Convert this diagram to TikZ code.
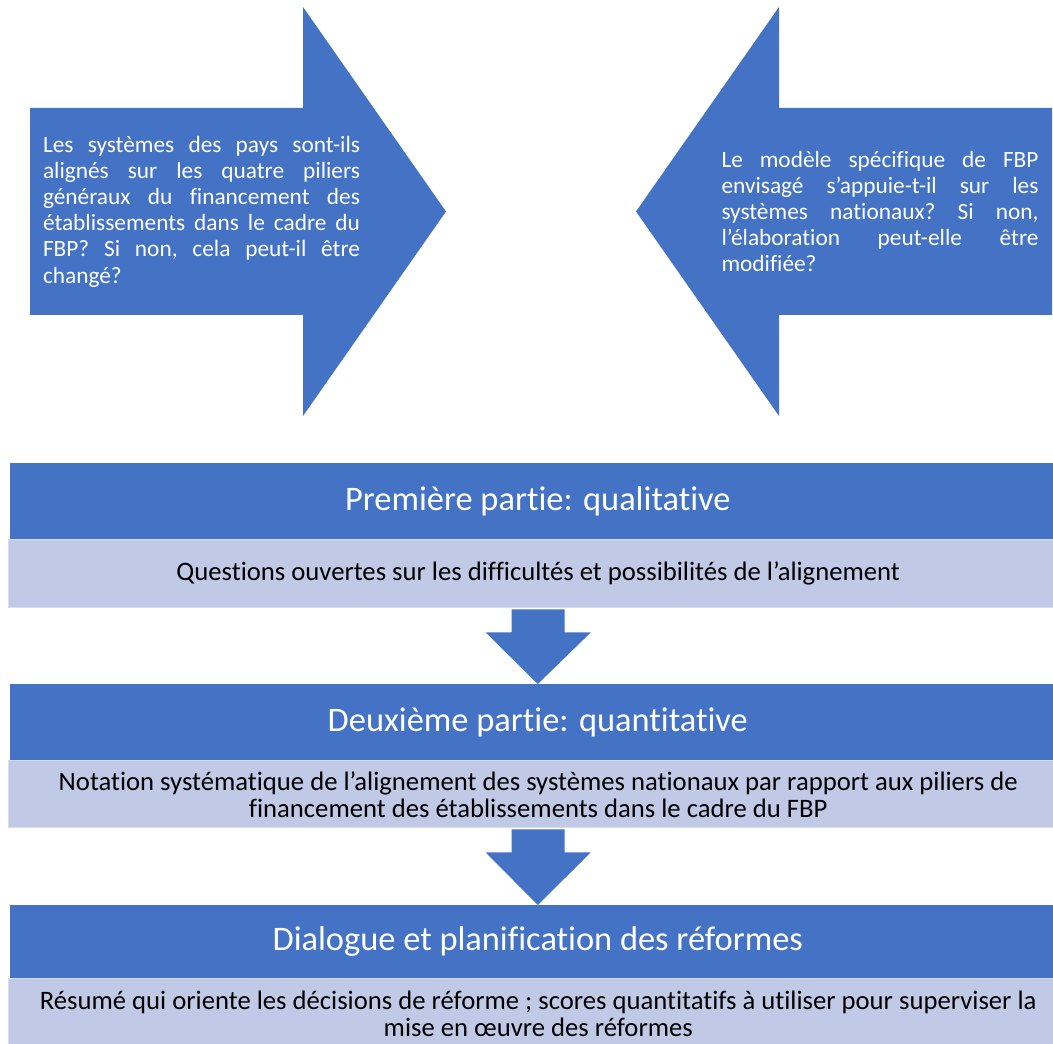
\documentclass[tikz,border=0pt]{standalone}
\usepackage{fontspec}
\setmainfont{Carlito}[Ligatures=NoCommon]
\usetikzlibrary{calc}
\definecolor{accent}{RGB}{68,114,196}
\definecolor{tint}{RGB}{192,201,230}
\definecolor{tintline}{RGB}{214,220,238}
\newcommand{\qsetup}{\frenchspacing\hyphenpenalty=10000\relax\exhyphenpenalty=10000\relax\tolerance=10000\relax}
\tikzset{
  headbox/.style={fill=accent, draw=none, anchor=north west, inner sep=0pt,
    text=white, font=\fontsize{25.8}{29}\selectfont, align=center,
    minimum width=1055*0.75pt},
  bodybox/.style={fill=tint, draw=tintline, line width=1.1pt, anchor=north west,
    inner sep=0pt, text=black, font=\fontsize{20}{20.25}\selectfont, align=center,
    minimum width=1059*0.75pt},
  blockarrow/.style={fill=accent, draw=none},
  qtext/.style={text=white, inner sep=0pt, text width=317*0.75pt, align=justify,
    font=\fontsize{17.5}{19.65}\selectfont}
}
\begin{document}
\begin{tikzpicture}[x=0.75pt,y=-0.75pt]
\clip (0,0) rectangle (1053,1044);
% top block arrows
\fill[blockarrow] (30,108) -- (303,108) -- (303,7) -- (446,211.5) -- (303,416) -- (303,315) -- (30,315) -- cycle;
\fill[blockarrow] (1052,108) -- (779,108) -- (779,7) -- (636,211.5) -- (779,416) -- (779,315) -- (1052,315) -- cycle;
\node[qtext] (q1) at (201.5,211.5) {\qsetup Les systèmes des pays sont-ils\linebreak alignés sur les quatre piliers\linebreak généraux du financement des\linebreak établissements dans le cadre du\linebreak FBP? Si non, cela peut-il être\linebreak changé?};
\node[qtext] (q2) at (880,211.5) {\qsetup Le modèle spécifique de FBP\linebreak envisagé s’appuie-t-il sur les\linebreak systèmes nationaux? Si non,\linebreak l’élaboration peut-elle être\linebreak modifiée?};
% boxes
\node[headbox, minimum height=76*0.75pt] (h1) at (10,463) {Première partie: qualitative};
\node[bodybox, minimum height=68*0.75pt] (b1) at (8,539) {Questions ouvertes sur les difficultés et possibilités de l’alignement};
\node[headbox, minimum height=76*0.75pt] (h2) at (10,684) {Deuxième partie: quantitative};
\node[bodybox, minimum height=67*0.75pt] (b2) at (8,760) {Notation systématique de l’alignement des systèmes nationaux par rapport aux piliers de\\financement des établissements dans le cadre du FBP};
\node[headbox, minimum height=73*0.75pt] (h3) at (10,905) {Dialogue et planification des réformes};
\node[bodybox, minimum height=70*0.75pt] (b3) at (8,978) {Résumé qui oriente les décisions de réforme ; scores quantitatifs à utiliser pour superviser la\\mise en œuvre des réformes};
% down block arrows
\fill[blockarrow] ($(b1.south)+(-26.5,1)$) -- ($(b1.south)+(26.5,1)$) -- ($(b1.south)+(26.5,24)$) -- ($(b1.south)+(52.5,24)$) -- (h2.north) -- ($(b1.south)+(-52.5,24)$) -- ($(b1.south)+(-26.5,24)$) -- cycle;
\fill[blockarrow] ($(b2.south)+(-26.5,1)$) -- ($(b2.south)+(26.5,1)$) -- ($(b2.south)+(26.5,24)$) -- ($(b2.south)+(52.5,24)$) -- (h3.north) -- ($(b2.south)+(-52.5,24)$) -- ($(b2.south)+(-26.5,24)$) -- cycle;
\end{tikzpicture}
\end{document}
